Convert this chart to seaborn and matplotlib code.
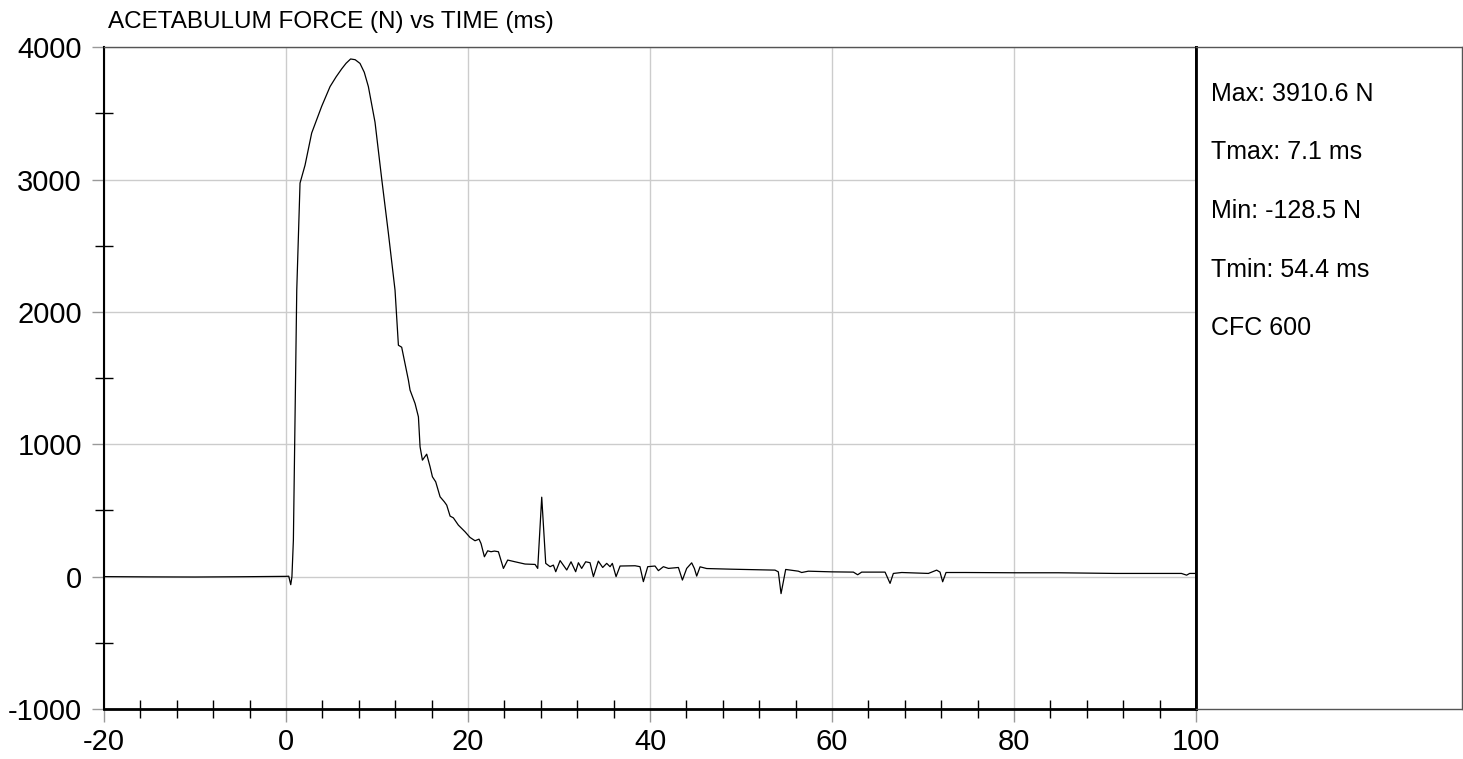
import matplotlib
matplotlib.use("Agg")
import matplotlib.pyplot as plt
from matplotlib.ticker import MultipleLocator
import seaborn as sns
import pandas as pd

# values
time_ms = [-20, -15, -10, -5, 0, 0.3, 0.52, 0.65, 0.81, 1.18, 1.54, 2.09, 2.82,
           3.92, 4.84, 5.5, 6.12, 6.6, 7.1, 7.6, 8.13, 8.6, 9.05, 9.78, 10.52, 11.25, 11.98,
           12.35, 12.71, 13.45, 13.63, 14.18, 14.55, 14.73, 14.99, 15.46, 15.83,
           16.09, 16.45, 16.93, 17.4, 17.66, 18.03, 18.39, 18.94, 19.67, 20.22,
           20.77, 21.21, 21.43, 21.8, 22.16, 22.53, 22.9, 23.34, 23.89, 24.36,
           25.17, 26.27, 27.37, 27.66, 28.1, 28.54, 29.02, 29.38, 29.64, 30.12,
           30.85, 31.32, 31.83, 32.13, 32.49, 32.93, 33.41, 33.78, 34.32, 34.8,
           35.24, 35.61, 35.86, 36.27, 36.71, 38.36, 38.9, 39.27, 39.75, 40.55,
           40.92, 41.47, 42.02, 43.12, 43.56, 44.03, 44.58, 44.88, 45.13, 45.5,
           46.23, 48.98, 53.74, 54.1, 54.4, 54.91, 56.3, 56.67, 57.4, 59.97,
           62.35, 62.82, 63.26, 65.83, 66.38, 66.74, 67.66, 70.59, 71.5, 71.87,
           72.16, 72.53, 74.62, 80.11, 84.87, 91.1, 98.4, 98.97, 99.3, 100]
force_n = [0, -2, -3, -1, 2, 3, -61, 0, 276, 2164, 2973, 3108, 3351,
           3553, 3702, 3775, 3836, 3878, 3910.6, 3905, 3877, 3810, 3702, 3433, 3002, 2594, 2164,
           1748, 1733, 1484, 1409, 1308, 1207, 981, 880, 925, 830,
           754, 716, 603, 565, 540, 457, 444, 389, 339, 296,
           271, 283, 250, 150, 195, 188, 193, 188, 62, 125,
           112, 95, 92, 62, 600, 100, 75, 87, 37, 121,
           50, 112, 37, 105, 62, 112, 105, 0, 117, 69,
           100, 75, 100, 0, 80, 82, 75, -38, 75, 80,
           45, 75, 62, 69, -26, 62, 104, 61, 4, 74,
           61, 56, 49, 36, -128.5, 54, 41, 31, 41, 36,
           34, 14, 34, 34, -51, 24, 31, 24, 49, 34,
           -39, 31, 31, 29, 29, 24, 24, 11, 24, 24]

title = "ACETABULUM FORCE (N) vs TIME (ms)"
stats_lines = ["Max: 3910.6 N", "Tmax: 7.1 ms", "Min: -128.5 N", "Tmin: 54.4 ms", "CFC 600"]

sns.set_style("ticks")
plt.rcParams["font.family"] = ["Liberation Sans", "DejaVu Sans"]
plt.rcParams["axes.unicode_minus"] = False
plt.rcParams["text.color"] = "black"
plt.rcParams["xtick.labelcolor"] = "black"
plt.rcParams["ytick.labelcolor"] = "black"

df = pd.DataFrame({"time": time_ms, "force": force_n})

fig = plt.figure(figsize=(14.63, 7.59), dpi=100)
ax = fig.add_axes([0.0711, 0.0659, 0.7464, 0.872])
sns.lineplot(data=df, x="time", y="force", ax=ax, color="black",
             linewidth=0.9, estimator=None, sort=False)

ax.set_xlim(-20, 100)
ax.set_ylim(-1000, 4000)
ax.set_xticks(range(-20, 101, 20))
ax.set_yticks(range(-1000, 4001, 1000))
ax.xaxis.set_minor_locator(MultipleLocator(4))
ax.yaxis.set_minor_locator(MultipleLocator(500))
ax.set_xlabel("")
ax.set_ylabel("")
ax.grid(which="major", color="#cccccc", linewidth=1)
ax.set_axisbelow(True)
ax.tick_params(which="major", direction="out", length=9, width=1,
               color="#999999", labelsize=21, bottom=True, left=True)
ax.tick_params(axis="y", which="major", pad=7)
ax.tick_params(axis="x", which="major", pad=5)
ax.tick_params(which="minor", direction="inout", length=13, width=1,
               color="black", bottom=True, left=True)

ax.spines["left"].set_color("black")
ax.spines["left"].set_linewidth(1.5)
ax.spines["bottom"].set_color("black")
ax.spines["bottom"].set_linewidth(2)
ax.spines["top"].set_color("#555555")
ax.spines["top"].set_linewidth(1)
ax.spines["right"].set_color("black")
ax.spines["right"].set_linewidth(2)

fig.text(0.0738, 0.971, title, fontsize=17.5, va="center", ha="left")

# stats panel on the right
panel = fig.add_axes([0.8175, 0.0659, 0.1818, 0.872])
panel.set_xticks([])
panel.set_yticks([])
panel.spines["left"].set_color("black")
panel.spines["left"].set_linewidth(2)
for side in ["top", "right", "bottom"]:
    panel.spines[side].set_visible(True)
    panel.spines[side].set_color("#555555")
    panel.spines[side].set_linewidth(1)
ys = [0.929, 0.842, 0.752, 0.663, 0.575]
for txt, y in zip(stats_lines, ys):
    panel.text(0.056, y, txt, transform=panel.transAxes, fontsize=18,
               va="center", ha="left")

fig.savefig("out.png", dpi=100)
